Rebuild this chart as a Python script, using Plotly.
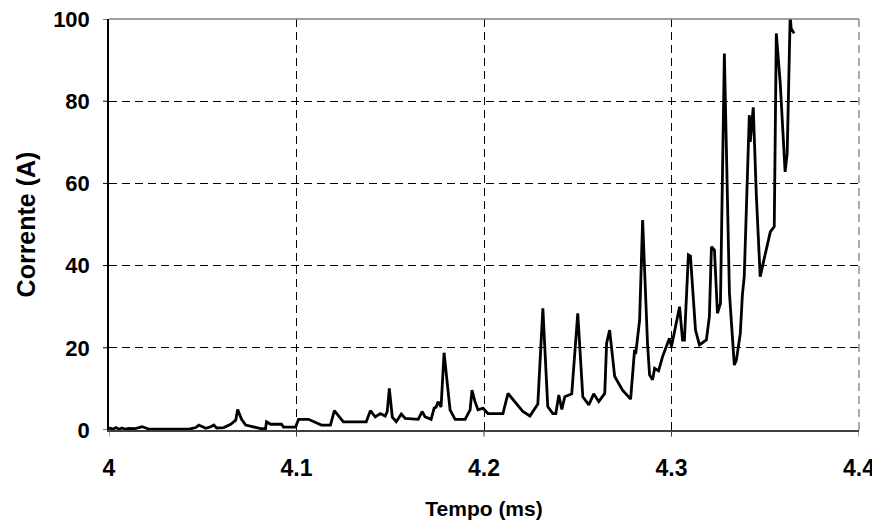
import plotly.graph_objects as go

# Tempo (ms) and Corrente (A)
tempo = [
    4.0000, 4.0021, 4.0037, 4.0053, 4.0069, 4.0085, 4.0106, 4.0133, 4.0160, 4.0176,
    4.0197, 4.0213, 4.0426, 4.0463, 4.0479, 4.0516, 4.0543, 4.0559, 4.0574, 4.0612,
    4.0649, 4.0676, 4.0686, 4.0707, 4.0729, 4.0782, 4.0814, 4.0835, 4.0840, 4.0862,
    4.0920, 4.0931, 4.0995, 4.1011, 4.1064, 4.1133, 4.1181, 4.1202, 4.1250, 4.1372,
    4.1394, 4.1420, 4.1447, 4.1473, 4.1484, 4.1495, 4.1511, 4.1532, 4.1559, 4.1580,
    4.1649, 4.1670, 4.1686, 4.1718, 4.1734, 4.1745, 4.1755, 4.1771, 4.1787, 4.1819,
    4.1846, 4.1899, 4.1926, 4.1936, 4.1952, 4.1968, 4.1995, 4.2021, 4.2101, 4.2128,
    4.2170, 4.2207, 4.2245, 4.2287, 4.2314, 4.2340, 4.2367, 4.2383, 4.2399, 4.2415,
    4.2431, 4.2468, 4.2500, 4.2527, 4.2559, 4.2585, 4.2612, 4.2644, 4.2654, 4.2670,
    4.2697, 4.2739, 4.2782, 4.2803, 4.2809, 4.2830, 4.2846, 4.2872, 4.2883, 4.2899,
    4.2910, 4.2931, 4.2952, 4.2989, 4.3000, 4.3043, 4.3059, 4.3069, 4.3090, 4.3101,
    4.3128, 4.3149, 4.3186, 4.3202, 4.3213, 4.3229, 4.3245, 4.3261, 4.3282, 4.3309,
    4.3335, 4.3346, 4.3367, 4.3378, 4.3388, 4.3415, 4.3420, 4.3436, 4.3452, 4.3473,
    4.3489, 4.3511, 4.3527, 4.3548, 4.3559, 4.3580, 4.3606, 4.3617, 4.3633, 4.3638,
    4.3654,
]
corrente = [
    0.5, 0.2, 0.6, 0.2, 0.5, 0.2, 0.4, 0.3, 0.6, 0.8,
    0.5, 0.2, 0.2, 0.6, 1.2, 0.4, 0.8, 1.2, 0.5, 0.6,
    1.4, 2.4, 5.0, 2.6, 1.2, 0.7, 0.3, 0.3, 2.0, 1.4,
    1.4, 0.7, 0.7, 2.6, 2.6, 1.2, 1.2, 4.7, 2.0, 2.0,
    4.7, 3.2, 4.0, 3.4, 4.5, 10.1, 3.1, 2.0, 3.9, 2.8,
    2.6, 4.5, 3.2, 2.6, 5.3, 5.6, 6.9, 5.6, 18.8, 4.9,
    2.6, 2.6, 4.9, 9.7, 6.9, 4.9, 5.3, 4.0, 4.0, 8.9,
    6.5, 4.5, 3.4, 6.3, 29.6, 5.7, 4.0, 4.0, 8.5, 5.0,
    8.1, 8.8, 28.4, 8.1, 6.1, 8.8, 6.9, 8.9, 21.1, 24.3,
    13.0, 9.7, 7.5, 19.5, 18.5, 26.8, 51.1, 21.1, 13.4, 12.2,
    15.0, 14.4, 17.8, 22.3, 20.3, 30.0, 21.9, 21.9, 42.6, 42.3,
    24.3, 20.7, 21.9, 27.6, 44.6, 43.8, 28.4, 30.8, 91.6, 33.3,
    15.8, 17.0, 23.5, 32.8, 37.3, 76.6, 70.1, 78.5, 57.6, 37.3,
    40.6, 45.4, 48.2, 49.5, 96.5, 84.3, 62.8, 67.3, 101.0, 97.7,
    96.5,
]

x_ticks = [4.0, 4.1, 4.2, 4.3, 4.4]
x_labels = ["4", "4.1", "4.2", "4.3", "4.4"]
y_ticks = [0, 20, 40, 60, 80, 100]

FONT = "Liberation Sans, Arial, sans-serif"

fig = go.Figure()

fig.add_trace(go.Scatter(
    x=tempo, y=corrente,
    mode='lines',
    line=dict(color='black', width=2.8),
    hoverinfo='x+y',
    showlegend=False
))

# Excel-like plot border: gray solid top, gray dashed right
fig.add_shape(type='line', xref='paper', yref='paper', x0=0, x1=1, y0=1, y1=1,
              line=dict(color='#808080', width=1.5))
fig.add_shape(type='line', xref='paper', yref='paper', x0=1, x1=1, y0=0, y1=1,
              line=dict(color='#909090', width=1.5, dash='8px,5px'))

# short visible tick marks (the axis ticks themselves are transparent, to push labels out)
for xv in x_ticks:
    fig.add_shape(type='line', xref='x', yref='paper', x0=xv, x1=xv, y0=0, y1=-0.016,
                  line=dict(color='#404040', width=1))
for yv in y_ticks:
    fig.add_shape(type='line', xref='paper', yref='y', x0=0, x1=-0.008, y0=yv, y1=yv,
                  line=dict(color='black', width=1))

# the page body adds an 8px offset, so the figure is 8px smaller on each side
fig.update_layout(
    width=872, height=517,
    plot_bgcolor='white',
    paper_bgcolor='white',
    margin=dict(l=101, r=21, t=11, b=95),
    font=dict(family=FONT, color='black'),
    xaxis=dict(
        range=[4.0, 4.4],
        tickvals=x_ticks, ticktext=x_labels,
        showgrid=True, gridcolor='black', gridwidth=1, griddash='8px,5px',
        showline=True, linecolor='#404040', linewidth=1.5,
        ticks='outside', ticklen=17, tickcolor='rgba(0,0,0,0)',
        ticklabeloverflow='allow',
        tickfont=dict(size=23, family=FONT, weight='bold'),
        title=dict(text='<b>Tempo (ms)</b>', font=dict(size=21, family=FONT), standoff=21),
        zeroline=False,
        automargin=False,
    ),
    yaxis=dict(
        range=[0, 100],
        tickvals=y_ticks,
        showgrid=True, gridcolor='black', gridwidth=1, griddash='8px,5px',
        showline=True, linecolor='black', linewidth=1.5,
        ticks='outside', ticklen=13, tickcolor='rgba(0,0,0,0)',
        ticklabeloverflow='allow',
        tickfont=dict(size=22, family=FONT, weight='bold'),
        title=dict(text='<b>Corrente (A)</b>', font=dict(size=25, family=FONT), standoff=10),
        zeroline=False,
        automargin=False,
    ),
)

fig.write_html("out.html")
